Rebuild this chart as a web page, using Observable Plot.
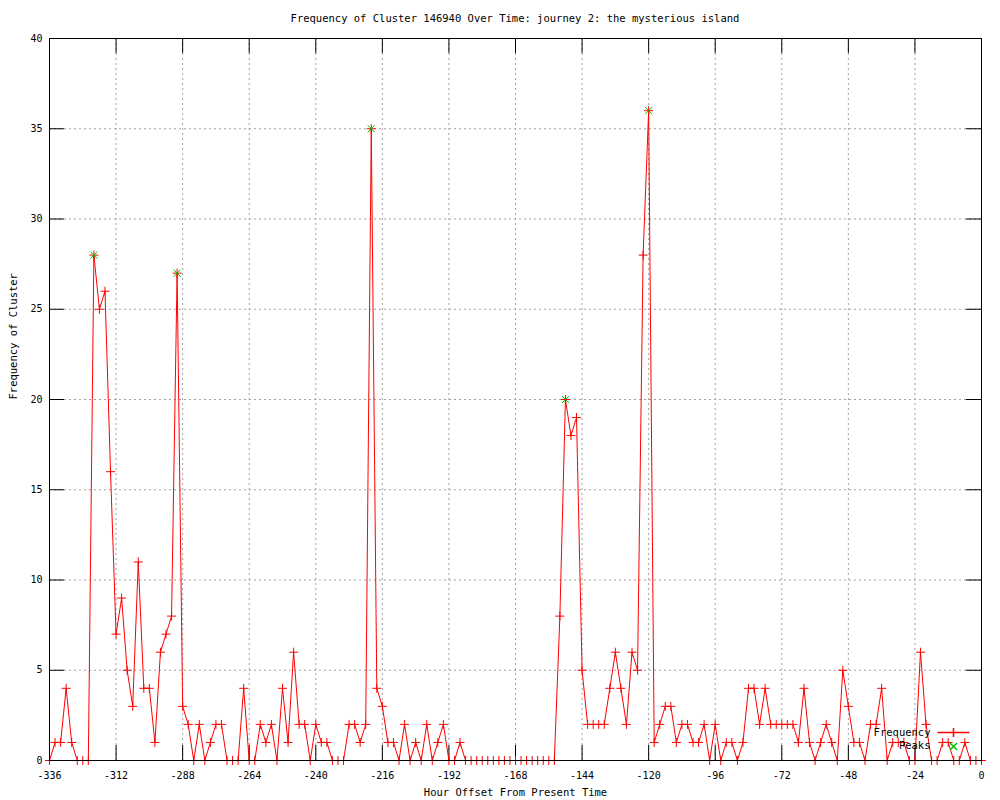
<!DOCTYPE html>
<html><head><meta charset="utf-8">
<script src="https://cdn.jsdelivr.net/npm/d3@7"></script>
<script src="https://cdn.jsdelivr.net/npm/@observablehq/plot@0.6"></script>
<style>
body{margin:0;background:#fff;}
#title{width:1000px;height:30px;box-sizing:border-box;padding:12px 19px 0 49px;font:10.5px/12px "DejaVu Sans Mono",monospace;text-align:center;color:#000;white-space:nowrap;}
</style></head><body>
<div id="title"></div>
<div id="chart"></div>
<script>
const chartTitle = "Frequency of Cluster 146940 Over Time: journey 2: the mysterious island";
const xLabel = "Hour Offset From Present Time";
const yLabel = "Frequency of Cluster";
const seriesNames = ["Frequency", "Peaks"];

const hours = [
  -336,-334,-332,-330,-328,-326,-324,-322,-320,-318,-316,-314,-312,-310,-308,-306,-304,-302,-300,-298,
  -296,-294,-292,-290,-288,-286,-284,-282,-280,-278,-276,-274,-272,-270,-268,-266,-264,-262,-260,-258,
  -256,-254,-252,-250,-248,-246,-244,-242,-240,-238,-236,-234,-232,-230,-228,-226,-224,-222,-220,-218,
  -216,-214,-212,-210,-208,-206,-204,-202,-200,-198,-196,-194,-192,-190,-188,-186,-184,-182,-180,-178,
  -176,-174,-172,-170,-168,-166,-164,-162,-160,-158,-156,-154,-152,-150,-148,-146,-144,-142,-140,-138,
  -136,-134,-132,-130,-128,-126,-124,-122,-120,-118,-116,-114,-112,-110,-108,-106,-104,-102,-100,-98,
  -96,-94,-92,-90,-88,-86,-84,-82,-80,-78,-76,-74,-72,-70,-68,-66,-64,-62,-60,-58,
  -56,-54,-52,-50,-48,-46,-44,-42,-40,-38,-36,-34,-32,-30,-28,-26,-24,-22,-20,-18,
  -16,-14,-12,-10,-8,-6,-4,-2,0
];
const frequency = [
  0,1,1,4,1,0,0,0,28,25,
  26,16,7,9,5,3,11,4,4,1,
  6,7,8,27,3,2,0,2,0,1,
  2,2,0,0,0,4,0,0,2,1,
  2,0,4,1,6,2,2,0,2,1,
  1,0,0,0,2,2,1,2,35,4,
  3,1,1,0,2,0,1,0,2,0,
  1,2,0,0,1,0,0,0,0,0,
  0,0,0,0,0,0,0,0,0,0,
  0,0,8,20,18,19,5,2,2,2,
  2,4,6,4,2,6,5,28,36,1,
  2,3,3,1,2,2,1,1,2,0,
  2,0,1,1,0,1,4,4,2,4,
  2,2,2,2,2,1,4,1,0,1,
  2,1,0,5,3,1,1,0,2,2,
  4,0,1,1,1,0,0,6,2,0,
  0,1,1,0,0,1,0,0,0
];
const peakHours = [-320, -290, -220, -150, -120];
const peakValues = [28, 27, 35, 20, 36];
const xTicks = [-336,-312,-288,-264,-240,-216,-192,-168,-144,-120,-96,-72,-48,-24,0];
const yTicks = [0,5,10,15,20,25,30,35,40];

document.getElementById("title").textContent = chartTitle;

const freqData = hours.map((h, i) => ({hour: h, value: frequency[i]}));
const peakData = peakHours.map((h, i) => ({hour: h, value: peakValues[i]}));

const plusSym = {draw(ctx, size) { const r = Math.sqrt(size / Math.PI); ctx.moveTo(-r, 0); ctx.lineTo(r, 0); ctx.moveTo(0, -r); ctx.lineTo(0, r); }};
const crossSym = {draw(ctx, size) { const r = Math.sqrt(size / Math.PI); ctx.moveTo(-r, -r); ctx.lineTo(r, r); ctx.moveTo(-r, r); ctx.lineTo(r, -r); }};
const sampleSym = {draw(ctx, size) { const r = Math.sqrt(size / Math.PI); ctx.moveTo(-16, 0); ctx.lineTo(16, 0); ctx.moveTo(0, -r); ctx.lineTo(0, r); }};

const W = 1000, H = 770, ML = 49, MR = 19, MT = 8, MB = 40;
const frameW = W - ML - MR, frameH = H - MT - MB, tick = 15;
const red = "#ff0000", green = "#00c000", gridColor = "#a0a0a0";

const chart = Plot.plot({
  width: W, height: H,
  marginLeft: ML, marginRight: MR, marginTop: MT, marginBottom: MB,
  style: {fontFamily: "DejaVu Sans Mono, monospace", fontSize: "10px", background: "#fff", color: "#000"},
  x: {domain: [-336, 0]},
  y: {domain: [0, 40]},
  marks: [
    Plot.gridX(xTicks.slice(1, -1), {stroke: gridColor, strokeOpacity: 1, strokeDasharray: "2,3"}),
    Plot.gridY(yTicks.slice(1, -1), {stroke: gridColor, strokeOpacity: 1, strokeDasharray: "2,3"}),
    Plot.ruleX(xTicks, {stroke: "#000", insetTop: frameH - tick}),
    Plot.ruleX(xTicks, {stroke: "#000", insetBottom: frameH - tick}),
    Plot.ruleY(yTicks, {stroke: "#000", insetRight: frameW - tick}),
    Plot.ruleY(yTicks, {stroke: "#000", insetLeft: frameW - tick}),
    Plot.axisX(xTicks, {tickSize: 0, tickPadding: 11, tickFormat: d => String(d), label: null, fontSize: "10px"}),
    Plot.axisY(yTicks, {tickSize: 0, tickPadding: 7, tickFormat: d => String(d), label: null, fontSize: "10px"}),
    Plot.line(freqData, {x: "hour", y: "value", stroke: red, strokeWidth: 1}),
    Plot.dot(freqData, {x: "hour", y: "value", symbol: plusSym, r: 4.5, stroke: red, fill: "none", strokeWidth: 1}),
    Plot.dot(peakData, {x: "hour", y: "value", symbol: crossSym, r: 3.5, stroke: green, fill: "none", strokeWidth: 1}),
    Plot.frame({stroke: "#000"}),
    Plot.text([xLabel], {text: d => d, frameAnchor: "bottom", dy: 35, fontSize: "10.5px"}),
    Plot.text([yLabel], {text: d => d, frameAnchor: "left", dx: -36, rotate: -90, fontSize: "10.5px"}),
    Plot.text([seriesNames[0]], {text: d => d, frameAnchor: "bottom-right", dx: -51, dy: -25, textAnchor: "end", fontSize: "10.5px"}),
    Plot.text([seriesNames[1]], {text: d => d, frameAnchor: "bottom-right", dx: -51, dy: -12, textAnchor: "end", fontSize: "10.5px"}),
    Plot.dot([seriesNames[0]], {frameAnchor: "bottom-right", dx: -28, dy: -28, symbol: sampleSym, r: 4.5, stroke: red, fill: "none"}),
    Plot.dot([seriesNames[1]], {frameAnchor: "bottom-right", dx: -28, dy: -14, symbol: crossSym, r: 3.5, stroke: green, fill: "none"})
  ]
});
document.getElementById("chart").appendChild(chart);
</script></body></html>
